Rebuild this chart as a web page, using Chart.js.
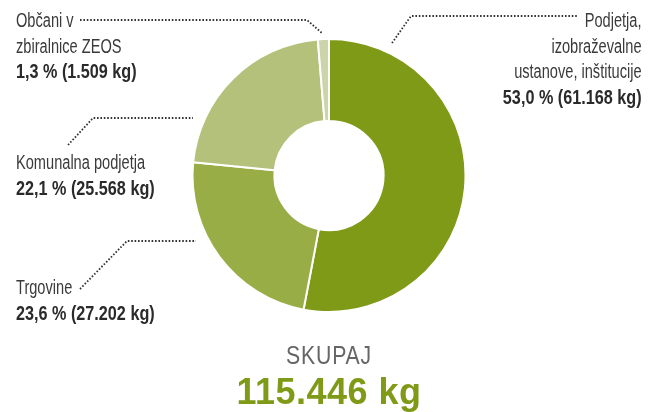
<!DOCTYPE html>
<html>
<head>
<meta charset="utf-8">
<script src="https://cdn.jsdelivr.net/npm/chart.js@4"></script>
<style>
  html, body { margin: 0; padding: 0; background: #fff; }
  #wrap { position: relative; width: 658px; height: 412px; overflow: hidden;
    font-family: "Liberation Sans", Arial, sans-serif; color: #3a3a3a; }
  #chart { position: absolute; left: 0; top: 0; }
  .lbl { position: absolute; font-size: 20px; line-height: 25.5px; white-space: nowrap; }
  .lbl div { transform: scaleX(0.73); transform-origin: left center; }
  .lbl div.b { font-weight: bold; color: #2a2a2a; transform: scaleX(0.81); }
  .lbl.right { text-align: right; }
  .lbl.right div { transform-origin: right center; }
  .cap, .val { position: absolute; left: 0; width: 658px; text-align: center; white-space: nowrap; }
  .cap { top: 343px; font-size: 25px; line-height: 25px; color: #666; letter-spacing: 1px; transform: scaleX(0.85); }
  .val { top: 374px; font-size: 36px; line-height: 36px; font-weight: bold; color: #7f9a17; letter-spacing: 0.5px; }
</style>
</head>
<body>
<div id="wrap">
  <canvas id="chart" width="658" height="412"></canvas>
  <div id="labels"></div>
  <div class="cap">SKUPAJ</div>
  <div class="val">115.446 kg</div>
</div>
<script>
// clockwise from 12 o'clock
const categories = ["Podjetja, izobraževalne ustanove, inštitucije", "Trgovine", "Komunalna podjetja", "Občani v zbiralnice ZEOS"];
const labelLines = [
  ["Podjetja,", "izobraževalne", "ustanove, inštitucije"],
  ["Trgovine"],
  ["Komunalna podjetja"],
  ["Občani v", "zbiralnice ZEOS"]
];
const kilograms = [61168, 27202, 25568, 1509];
const percents = ["53,0", "23,6", "22,1", "1,3"];
const kgText = ["61.168", "27.202", "25.568", "1.509"];
const colors = ["#7f9a17", "#99ad47", "#b4c17b", "#cbd4aa"];

// label boxes and dotted leader paths (page pixels)
const labelBoxes = [
  { right: 16, top: 8 },
  { left: 16, top: 275 },
  { left: 16, top: 150 },
  { left: 16, top: 8 }
];
const leaders = [
  [[392, 43], [411, 16], [578, 16]],
  [[80, 289], [127, 241], [196, 241]],
  [[68, 145], [93, 118], [193, 118]],
  [[80, 20], [307, 20], [323, 34]]
];

const labelsEl = document.getElementById("labels");
categories.forEach((c, i) => {
  const box = document.createElement("div");
  const isRight = labelBoxes[i].right !== undefined;
  box.className = "lbl" + (isRight ? " right" : "");
  if (isRight) box.style.right = labelBoxes[i].right + "px";
  else box.style.left = labelBoxes[i].left + "px";
  box.style.top = labelBoxes[i].top + "px";
  labelLines[i].forEach((t) => {
    const line = document.createElement("div");
    line.textContent = t;
    box.appendChild(line);
  });
  const bold = document.createElement("div");
  bold.className = "b";
  bold.textContent = percents[i] + " % (" + kgText[i] + " kg)";
  box.appendChild(bold);
  labelsEl.appendChild(box);
});

const leaderPlugin = {
  id: "leaders",
  afterDraw(chart) {
    const ctx = chart.ctx;
    ctx.save();
    ctx.strokeStyle = "#333";
    ctx.lineWidth = 1.8;
    ctx.setLineDash([1.6, 1.8]);
    leaders.forEach((pts) => {
      ctx.beginPath();
      ctx.moveTo(pts[0][0], pts[0][1]);
      for (let k = 1; k < pts.length; k++) ctx.lineTo(pts[k][0], pts[k][1]);
      ctx.stroke();
    });
    ctx.restore();
  }
};

new Chart(document.getElementById("chart").getContext("2d"), {
  type: "doughnut",
  data: {
    labels: categories,
    datasets: [{
      data: kilograms,
      backgroundColor: colors,
      borderColor: "#fff",
      borderWidth: 2
    }]
  },
  options: {
    responsive: false,
    animation: false,
    cutout: "40%",
    layout: { padding: { top: 38, bottom: 99, left: 0, right: 0 } },
    plugins: {
      legend: { display: false },
      tooltip: { enabled: false }
    }
  },
  plugins: [leaderPlugin]
});
</script>
</body>
</html>
